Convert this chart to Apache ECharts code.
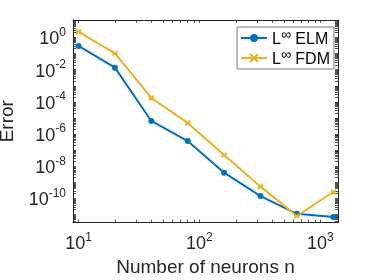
<!DOCTYPE html>
<html><head><meta charset="utf-8">
<script src="https://cdn.jsdelivr.net/npm/echarts@6/dist/echarts.min.js"></script>
<style>html,body{margin:0;padding:0;background:#fff}#c{width:374px;height:280px}</style>
</head><body><div id="c"></div>
<script>
// ---- data ----
const neurons = [10, 20, 40, 80, 160, 320, 640, 1280];
const elmError = [0.30, 0.0133, 6.5e-6, 3.7e-7, 4.0e-9, 1.4e-10, 1.1e-11, 7.1e-12];
const fdmError = [2.3, 0.104, 1.75e-4, 4.9e-6, 5.0e-8, 5.4e-10, 8.1e-12, 2.5e-10];
const seriesNames = ['L∞ ELM', 'L∞ FDM'];
const xTickExponents = [1, 2, 3];
const yTickExponents = [0, -2, -4, -6, -8, -10];
const xLimits = [9, 1400];
const yLimits = [3.2e-12, 12.2];

const FONT = '"Liberation Sans", Arial, Helvetica, sans-serif';
const AX = '#262626';
const lg = Math.log10;

function minorTicks(lo, hi) {
  const out = [];
  for (let d = Math.floor(lo) - 1; d <= Math.ceil(hi); d++) {
    for (let k = 1; k <= 9; k++) {
      const v = d + lg(k);
      if (v >= lo && v <= hi) out.push(v);
    }
  }
  return out;
}
const xr = [lg(xLimits[0]), lg(xLimits[1])];
const yr = [lg(yLimits[0]), lg(yLimits[1])];
const xTicksAll = minorTicks(xr[0], xr[1]);
const yTicksAll = minorTicks(yr[0], yr[1]);

const labelRich = {
  b: {fontSize: 18, fontFamily: FONT, color: AX, verticalAlign: 'bottom', lineHeight: 22},
  s: {fontSize: 12, fontFamily: FONT, color: AX, verticalAlign: 'top', lineHeight: 22}
};
const expLabel = v => '{b|10}{s|' + Math.round(v) + '}';

function axisBase(range, ticks, pos) {
  return {
    type: 'value', min: range[0], max: range[1], position: pos,
    splitLine: {show: false},
    axisLine: {show: true, onZero: false, lineStyle: {color: AX, width: 1}},
    axisTick: {show: true, inside: true, length: 3, customValues: ticks, lineStyle: {color: AX, width: 0.8}},
    axisLabel: {show: false}
  };
}

const xBottom = axisBase(xr, xTicksAll, 'bottom');
xBottom.axisLabel = {show: true, customValues: xTickExponents, formatter: expLabel, rich: labelRich, margin: 9};
xBottom.name = 'Number of neurons n';
xBottom.nameLocation = 'middle';
xBottom.nameGap = 35;
xBottom.nameTextStyle = {fontSize: 19, fontFamily: FONT, color: AX};
const xTop = axisBase(xr, xTicksAll, 'top');

const yLeft = axisBase(yr, yTicksAll, 'left');
yLeft.axisLabel = {show: true, customValues: yTickExponents, formatter: expLabel, rich: labelRich, margin: 7};
yLeft.name = 'Error';
yLeft.nameLocation = 'middle';
yLeft.nameGap = 48;
yLeft.nameTextStyle = {fontSize: 19, fontFamily: FONT, color: AX};
const yRight = axisBase(yr, yTicksAll, 'right');

const chart = echarts.init(document.getElementById('c'), null, {renderer: 'canvas'});
chart.setOption({
  animation: false,
  backgroundColor: '#fff',
  grid: {left: 73, right: 36, top: 20, bottom: 57.5, containLabel: false, outerBoundsMode: 'none'},
  xAxis: [xBottom, xTop],
  yAxis: [yLeft, yRight],
  legend: {
    orient: 'vertical', left: 237, top: 27,
    padding: [1, 4, 1, 3], itemWidth: 26, itemHeight: 10, itemGap: 0,
    borderColor: '#777', borderWidth: 1, backgroundColor: '#fff',
    data: seriesNames,
    formatter: n => '{n|L}{s|∞}{n|' + n.slice(2) + '}',
    textStyle: {
      rich: {
        n: {fontSize: 16, fontFamily: FONT, color: '#000', verticalAlign: 'bottom', lineHeight: 20},
        s: {fontSize: 14, fontFamily: FONT, color: '#000', verticalAlign: 'top', lineHeight: 20}
      }
    }
  },
  series: [
    {
      name: seriesNames[0], type: 'line', xAxisIndex: 0, yAxisIndex: 0,
      data: neurons.map((n, i) => [lg(n), lg(elmError[i])]),
      symbol: 'circle', symbolSize: 6,
      color: '#0072BD',
      lineStyle: {width: 2, color: '#0072BD'},
      itemStyle: {color: '#0072BD'},
      emphasis: {disabled: true}
    },
    {
      name: seriesNames[1], type: 'line', xAxisIndex: 0, yAxisIndex: 0,
      data: neurons.map((n, i) => [lg(n), lg(fdmError[i])]),
      symbol: 'path://M0,0L10,10M10,0L0,10M0,5L10,5', symbolSize: 5,
      color: '#EDB120',
      lineStyle: {width: 2, color: '#EDB120'},
      itemStyle: {color: '#EDB120', borderColor: '#EDB120', borderWidth: 1.5},
      emphasis: {disabled: true}
    }
  ]
});
</script></body></html>
